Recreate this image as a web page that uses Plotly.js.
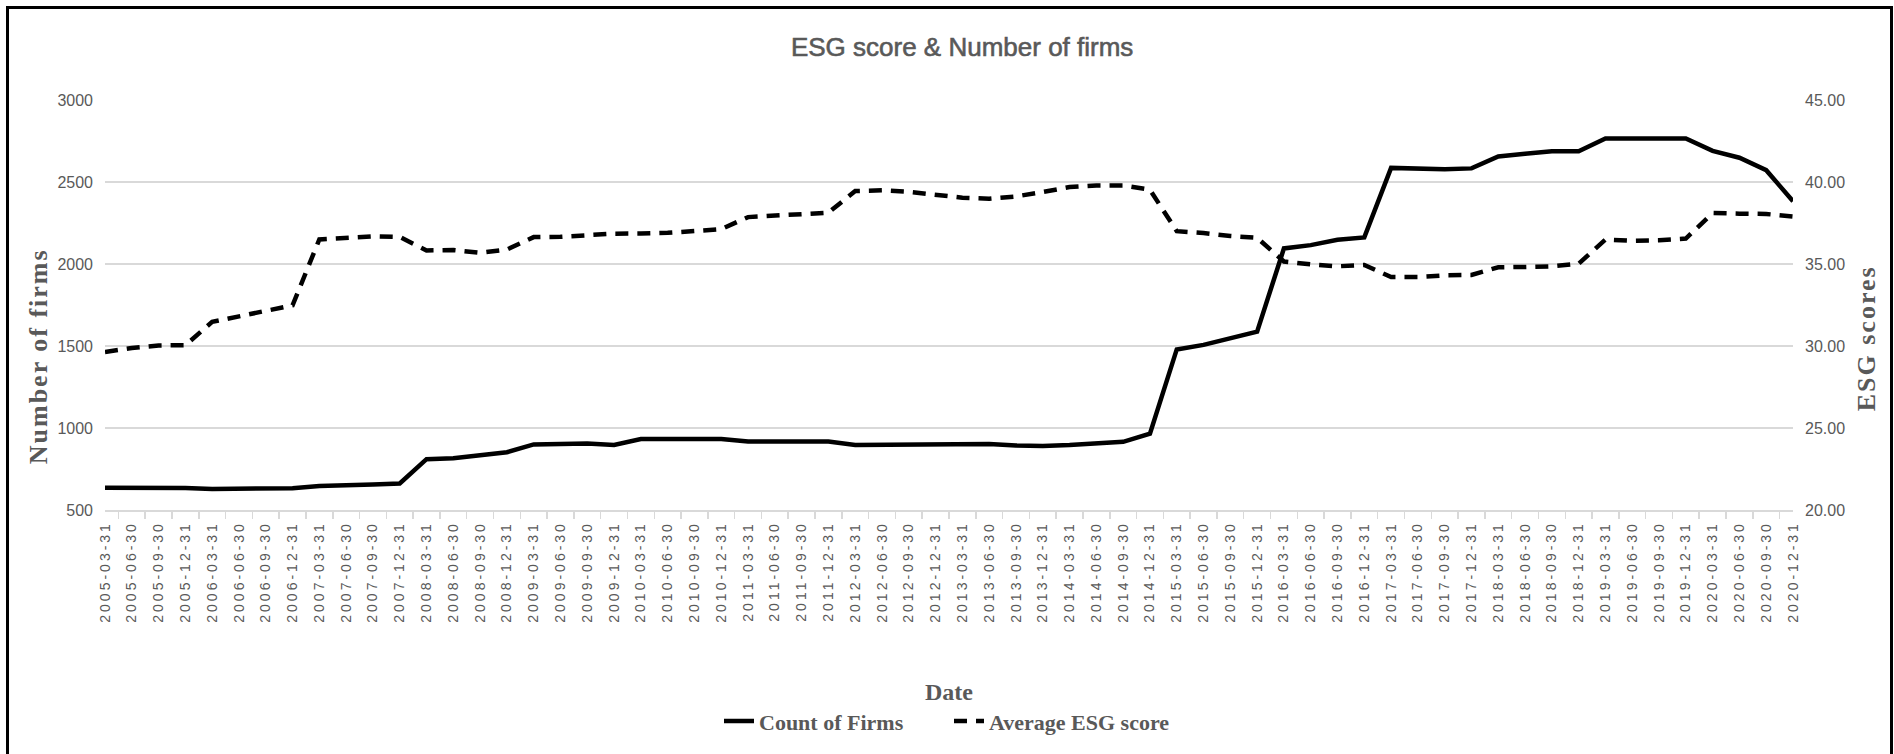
<!DOCTYPE html>
<html>
<head>
<meta charset="utf-8">
<script src="https://cdn.plot.ly/plotly-3.0.1.min.js"></script>
<style>
html,body{margin:0;padding:0;background:#fff;overflow:hidden;}
#wrap{position:relative;width:1894px;height:754px;overflow:hidden;}
#chart{position:absolute;left:0;top:0;width:1894px;height:754px;}
#frame{position:absolute;left:6px;top:6px;width:1881px;height:800px;border:3px solid #000;pointer-events:none;}
#chart .xtick text{letter-spacing:3px;}
#chart .annotation text{letter-spacing:2px;}
#chart .gtitle{stroke:#595959;stroke-width:0.6px;}
</style>
</head>
<body>
<div id="wrap"><div id="chart"></div><div id="frame"></div></div>
<script>
const dates = [
  "2005-03-31","2005-06-30","2005-09-30","2005-12-31",
  "2006-03-31","2006-06-30","2006-09-30","2006-12-31",
  "2007-03-31","2007-06-30","2007-09-30","2007-12-31",
  "2008-03-31","2008-06-30","2008-09-30","2008-12-31",
  "2009-03-31","2009-06-30","2009-09-30","2009-12-31",
  "2010-03-31","2010-06-30","2010-09-30","2010-12-31",
  "2011-03-31","2011-06-30","2011-09-30","2011-12-31",
  "2012-03-31","2012-06-30","2012-09-30","2012-12-31",
  "2013-03-31","2013-06-30","2013-09-30","2013-12-31",
  "2014-03-31","2014-06-30","2014-09-30","2014-12-31",
  "2015-03-31","2015-06-30","2015-09-30","2015-12-31",
  "2016-03-31","2016-06-30","2016-09-30","2016-12-31",
  "2017-03-31","2017-06-30","2017-09-30","2017-12-31",
  "2018-03-31","2018-06-30","2018-09-30","2018-12-31",
  "2019-03-31","2019-06-30","2019-09-30","2019-12-31",
  "2020-03-31","2020-06-30","2020-09-30","2020-12-31"
];

const countOfFirms = [
  635, 635, 635, 634,
  628, 628, 632, 633,
  646, 648, 655, 662,
  810, 816, 836, 852,
  900, 900, 905, 897,
  933, 933, 933, 933,
  917, 917, 917, 917,
  897, 898, 899, 900,
  900, 902, 894, 890,
  896, 905, 916, 966,
  1479, 1507, 1546, 1588,
  2095, 2115, 2148, 2162,
  2586, 2584, 2577, 2583,
  2656, 2672, 2688, 2688,
  2766, 2766, 2766, 2766,
  2690, 2648, 2572, 2383
];

const averageESG = [
  29.64, 29.88, 30.03, 30.05,
  31.47, 31.81, 32.08, 32.48,
  36.50, 36.60, 36.69, 36.65,
  35.83, 35.85, 35.68, 35.88,
  36.64, 36.66, 36.77, 36.85,
  36.86, 36.90, 37.01, 37.13,
  37.86, 37.96, 38.07, 38.13,
  39.45, 39.49, 39.40, 39.24,
  39.04, 38.98, 39.12, 39.39,
  39.69, 39.79, 39.79, 39.53,
  37.00, 36.89, 36.71, 36.60,
  35.15, 34.98, 34.86, 34.94,
  34.21, 34.21, 34.31, 34.33,
  34.80, 34.82, 34.86, 35.02,
  36.49, 36.42, 36.45, 36.55,
  38.11, 38.07, 38.05, 37.90
];

const leftTicks = [500, 1000, 1500, 2000, 2500, 3000];
const rightTicks = [20, 25, 30, 35, 40, 45];

const gray = '#595959';
const gridGray = '#d9d9d9';
const sans = '"Liberation Sans", Arial, sans-serif';
const serif = '"Liberation Serif", "Times New Roman", serif';

const traces = [
  {
    x: dates, y: countOfFirms, name: 'Count of Firms',
    type: 'scatter', mode: 'lines', yaxis: 'y',
    line: {color: '#000000', width: 4.5}
  },
  {
    x: dates, y: averageESG, name: 'Average ESG score',
    type: 'scatter', mode: 'lines', yaxis: 'y2',
    line: {color: '#000000', width: 4.5, dash: '13px,9px'}
  }
];

const layout = {
  width: 1894, height: 754,
  margin: {l: 105, r: 101, t: 100, b: 244, autoexpand: false},
  paper_bgcolor: '#ffffff', plot_bgcolor: '#ffffff',
  showlegend: true,
  title: {
    text: 'ESG score & Number of firms',
    font: {family: sans, size: 26, color: gray},
    xref: 'container', x: 0.508, xanchor: 'center',
    yref: 'container', y: 0.938, yanchor: 'middle'
  },
  xaxis: {
    type: 'category', tickangle: -90, tickson: 'boundaries',
    ticks: 'outside', ticklen: 7, tickcolor: gridGray, tickwidth: 1.5,
    showline: true, linecolor: gridGray, linewidth: 1.5,
    showgrid: false, zeroline: false, automargin: false,
    ticklabelstandoff: 4,
    tickfont: {family: sans, size: 14, color: gray},
    title: {text: 'Date', standoff: 91, font: {family: serif, size: 24, color: gray, weight: 'bold'}}
  },
  yaxis: {
    range: [500, 3000], tickvals: leftTicks, ticktext: leftTicks.map(String),
    showgrid: true, gridcolor: gridGray, gridwidth: 1.5,
    zeroline: false, showline: false, ticks: '', automargin: false,
    ticklabelstandoff: 11,
    tickfont: {family: sans, size: 16, color: gray}
  },
  yaxis2: {
    overlaying: 'y', side: 'right', range: [20, 45],
    tickvals: rightTicks, tickformat: '.2f',
    showgrid: false, zeroline: false, showline: false, ticks: '', automargin: false,
    ticklabelstandoff: 11,
    tickfont: {family: sans, size: 16, color: gray}
  },
  annotations: [
    {
      text: 'Number of firms', textangle: -90, showarrow: false,
      xref: 'paper', yref: 'paper', x: -0.0397, y: 0.375,
      xanchor: 'center', yanchor: 'middle',
      font: {family: serif, size: 26, color: gray, weight: 'bold'}
    },
    {
      text: 'ESG scores', textangle: -90, showarrow: false,
      xref: 'paper', yref: 'paper', x: 1.0433, y: 0.419,
      xanchor: 'center', yanchor: 'middle',
      font: {family: serif, size: 26, color: gray, weight: 'bold'}
    }
  ],
  legend: {
    orientation: 'h', x: 0.5, xanchor: 'center', y: -0.515, yanchor: 'middle',
    entrywidth: 185, entrywidthmode: 'pixels',
    font: {family: serif, size: 22, color: gray, weight: 'bold'},
    bgcolor: 'rgba(0,0,0,0)'
  }
};

Plotly.newPlot('chart', traces, layout, {displayModeBar: false, staticPlot: true});
</script>
</body>
</html>
